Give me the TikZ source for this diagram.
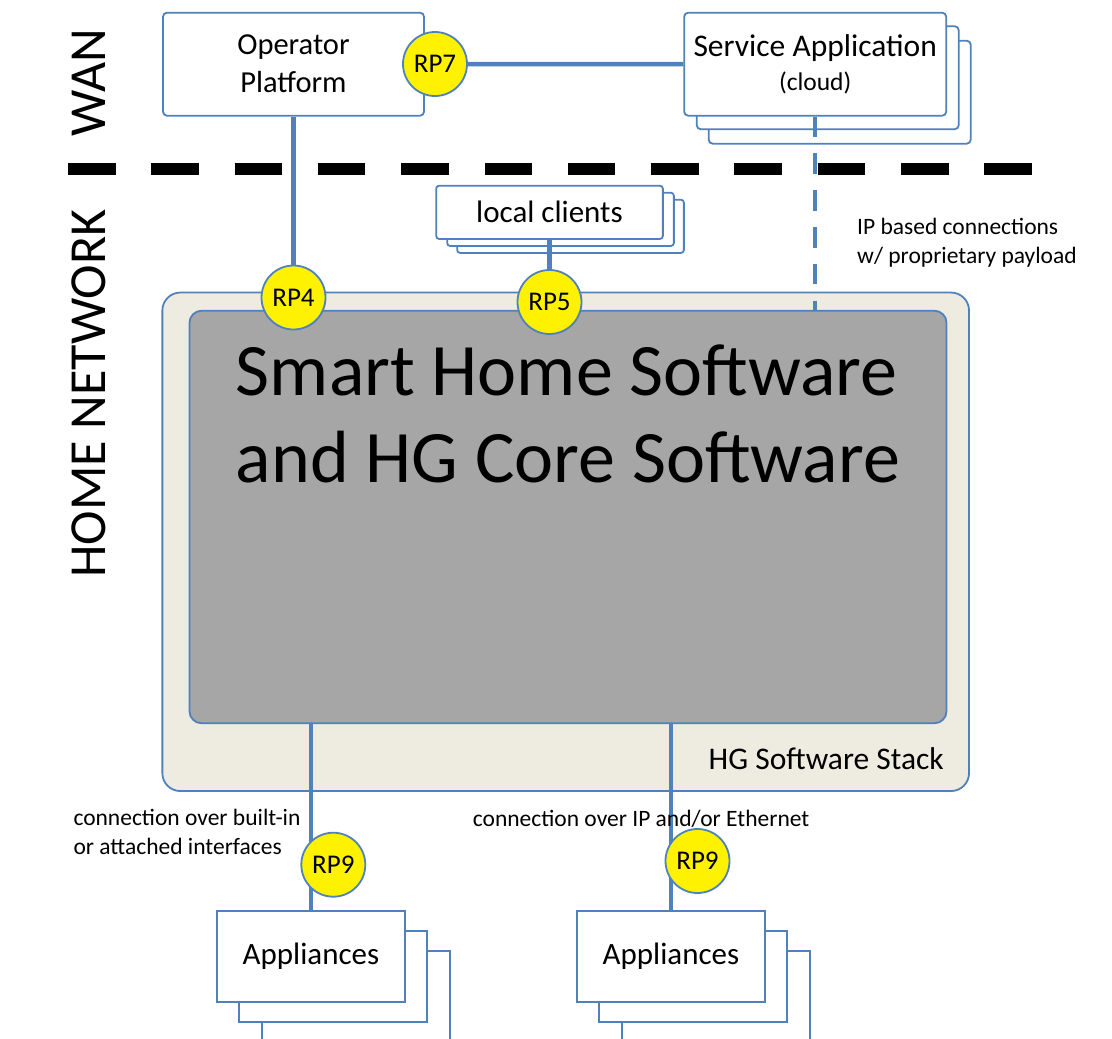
\documentclass[tikz,border=0pt]{standalone}
\usepackage{fontspec}
\setmainfont{Carlito}
\usetikzlibrary{positioning}

\definecolor{hgblue}{HTML}{4F81BD}
\definecolor{hgtan}{HTML}{EEECE1}
\definecolor{hggray}{HTML}{A6A6A6}

\tikzset{
  box/.style={draw=hgblue, line width=1.8pt, fill=white, rounded corners=4pt,
    inner sep=0pt, align=center, font=\fontsize{30.5}{38}\selectfont},
  appbox/.style={box, rounded corners=0pt, minimum width=188pt, minimum height=90.7pt,
    font=\fontsize{31}{36}\selectfont},
  rp/.style={circle, draw=hgblue, line width=1.8pt, fill=yellow, minimum size=64pt,
    inner sep=0pt, font=\fontsize{27}{30}\selectfont},
  link/.style={draw=hgblue, line width=4.5pt},
  note/.style={inner sep=0pt, align=left, font=\fontsize{23.5}{29}\selectfont},
  zone/.style={inner sep=0pt, rotate=90, font=\fontsize{52}{60}\selectfont}
}

\begin{document}
\begin{tikzpicture}[x=1pt, y=-1pt]
\useasboundingbox (0,0) rectangle (1112,1039);

%% WAN side
\node[box, minimum width=261pt, minimum height=103pt] (op) at (293.5,64.2) {Operator\\Platform};
\node[box, minimum width=262pt, minimum height=103pt] (sa3) at (839.7,92.2) {};
\node[box, minimum width=262pt, minimum height=103pt] (sa2) at (827.7,77.7) {};
\node[box, minimum width=262pt, minimum height=103pt, font=\fontsize{31.5}{34}\selectfont] (sa) at (815.2,64.2)
  {Service Application\\{\fontsize{25.5}{34}\selectfont (cloud)}};

%% local clients
\node[box, rounded corners=3pt, minimum width=226.7pt, minimum height=53.3pt] (lc3) at (570.5,226.3) {};
\node[box, rounded corners=3pt, minimum width=226.7pt, minimum height=53.3pt] (lc2) at (560.5,219.3) {};
\node[box, rounded corners=3pt, minimum width=226.7pt, minimum height=53.3pt, font=\fontsize{31}{36}\selectfont] (lc) at (549.5,212.3) {local clients};

%% HG software stack
\node[draw=hgblue, line width=1.8pt, fill=hgtan, rounded corners=18pt, inner sep=0pt,
  minimum width=806.7pt, minimum height=498.5pt] (stack) at (565.7,541.8) {};
\node[draw=hgblue, line width=1.8pt, fill=hggray, rounded corners=12pt, inner sep=0pt,
  minimum width=757pt, minimum height=412.5pt] (core) at (568,517) {};
\node[inner sep=0pt, align=left, font=\fontsize{74}{87}\selectfont, below=35pt of core.north] (coretxt)
  {Smart Home Software\\and HG Core Software};
\node[inner sep=0pt, anchor=base west, font=\fontsize{31.5}{36}\selectfont] (stacktxt) at (708.5,769) {HG Software Stack};

%% appliances
\node[appbox] (app1c) at (356,996.3) {};
\node[appbox] (app1b) at (333.3,976.3) {};
\node[appbox] (app1) at (311,956.3) {Appliances};
\node[appbox] (app2c) at (716,996.3) {};
\node[appbox] (app2b) at (693.3,976.3) {};
\node[appbox] (app2) at (671,956.3) {Appliances};

%% connections
\coordinate (p7) at (435,64);
\coordinate (p4) at (293.5,297.5);
\coordinate (p5) at (549.5,302);
\draw[link] (p7) -- (sa.west);
\draw[link] (op.south) -- (p4);
\draw[link] (lc.south) -- (p5);
\draw[link, dash pattern=on 20.5pt off 16.3pt] (sa.south) -- (sa.south |- core.north);
\draw[link] (app1.north |- core.south) -- (app1.north);
\draw[link] (app2.north |- core.south) -- (app2.north);

%% reference points
\node[rp] (rp7) at (p7) {RP7};
\node[rp] (rp4) at (p4) {RP4};
\node[rp] (rp5) at (p5) {RP5};
\node[rp] (rp9a) at (333.3,864.7) {RP9};
\node[rp] (rp9b) at (697.5,861) {RP9};

%% labels
\node[note, anchor=west] (iplbl) at (857,243) {IP based connections\\w/ proprietary payload};
\node[note, anchor=west] (bilbl) at (73.3,832) {connection over built-in\\or attached interfaces};
\node[note, anchor=base west] (ethlbl) at (472.7,826.7) {connection over IP and/or Ethernet};

%% WAN / home network border
\draw[line width=12pt, dash pattern=on 47.5pt off 35.8pt] (68,169) -- (1032,169);
\node[zone] (wan) at (89,82.5) {WAN};
\node[zone] (home) at (89,393.5) {HOME NETWORK};

\end{tikzpicture}
\end{document}
